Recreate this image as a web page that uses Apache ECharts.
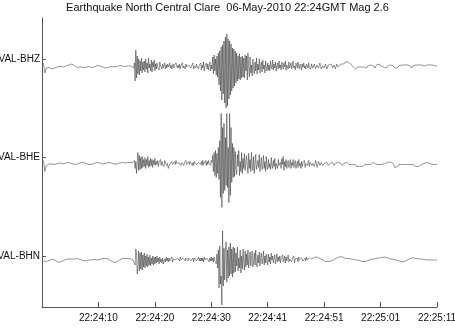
<!DOCTYPE html>
<html>
<head>
<meta charset="utf-8">
<script src="https://cdn.jsdelivr.net/npm/echarts@6/dist/echarts.min.js"></script>
<style>
html,body{margin:0;padding:0;background:#fff;}
#chart{width:455px;height:330px;}
</style>
</head>
<body>
<div id="chart"></div>
<script>
// ---- text ----
const titleText = 'Earthquake North Central Clare  06-May-2010 22:24GMT Mag 2.6';
const tickLabels = ['', '22:24:10', '22:24:20', '22:24:30', '22:24:41', '22:24:51', '22:25:01', '22:25:11'];
const channelNames = ['VAL-BHZ', 'VAL-BHE', 'VAL-BHN'];
const channelOffsets = [3, 2, 1];

// ---- sampling of the three record segments (axis time units, 10 per tick) ----
const segmentStarts = [0, 16, 48];
const segmentSteps = [0.25, 0.125, 0.25];

// ---- VAL-BHZ amplitudes (up positive) ----
const bhzBefore = [
 -4, -14, -9, -8, -8.5, -9.5, -10, -9.5, -9, -8.5,
 -8, -7.5, -7.5, -8, -8, -7.5, -7, -6.5, -6, -5.5,
 -5, -5.5, -6.5, -7.5, -8.5, -8.5, -8, -8, -8.5, -9,
 -8.5, -8, -7.5, -8, -8.5, -8.5, -8, -7, -6.5, -6.5,
 -7, -7.5, -8, -8.5, -9, -9, -8.5, -8, -7.5, -7.5,
 -8, -8, -7.5, -7, -6.5, -6.5, -7, -7.5, -7.5, -7,
 -7, -7, -7, -7
];
const bhzActive = [
 -7, -9, -4, -22, 9, -19, 3, -15, 0, -16, -2, -12, 1, -14, -3, -11,
 -2, -13, 0, -10, -4, -14, 1, -9, -5, -12, -1, -13, -3, -8, -1, -12,
 -5, -10, -4, -8, -7, -11, -3, -7, -6, -10, -5, -9, -8, -4, -10, -6,
 -9, -5, -8, -7, -4, -9, -6, -10, -7, -5, -9, -6, -8, -4, -7, -9,
 -6, -9, -5, -10, -7, -8, -4, -9, -7, -6, -10, -5, -8, -7, -9, -6,
 -8, -5, -9, -7, -8, -4, -10, -7, -6, -9, -5, -8, -7, -10, -6, -8,
 -4, -11, -6, -9, -3, -12, -7, -8, -4, -10, -5, -11, -7, -3, -12, -6,
 -10, 2, -15, 4, -12, 0, -16, 3, -18, 6, -26, 8, -32, 12, -41, 14,
 -35, 18, -44, 22, -49, 25, -47, 20, -40, 18, -36, 15, -32, 11, -29, 10,
 -27, 8, -24, 6, -22, 3, -20, 5, -21, 2, -19, 3, -18, 1, -19, 4,
 -12, 3, -21, 6, -9, -18, 2, -14, -6, -17, 0, -10, -15, -3, -12, 1,
 -15, -5, -11, 0, -14, -8, -3, -13, -1, -10, -6, -14, -2, -9, -12, -4,
 -11, -6, -12, -2, -8, -10, -1, -11, -5, -9, -3, -12, -7, -4, -10, -2,
 -9, -6, -11, -3, -7, -10, -4, -8, -2, -11, -6, -5, -10, -3, -9, -7,
 -4, -10, -6, -2, -9, -7, -11, -4, -6, -9, -3, -8, -10, -5, -7, -11,
 -5, -8, -4, -9, -7, -10, -5, -6, -9, -4, -8, -6, -10, -5, -7, -9
];
const bhzAfter = [
 -5, -10, -6, -9, -4, -10, -7, -9, -5, -10, -6, -8, -5, -9, -6, -10, -5, -8,
 -6, -5, -4, -5, -3, -2, -3, -4, -5, -7, -8, -10, -9, -8, -7, -8, -6, -8,
 -7, -9, -7, -8, -6, -8, -7, -9, -6, -7, -5, -7, -6, -8, -7, -9, -7, -8,
 -6, -8, -7, -9, -8, -9, -7, -8, -6, -8, -6, -7, -6, -8, -7, -9, -7, -8,
 -6, -8, -6, -7, -6, -8, -7, -8, -6, -7, -6, -7, -6, -8, -7, -7
];

// ---- VAL-BHE amplitudes ----
const bheBefore = [
 -3, -14, -8, -7, -6.5, -6, -6.5, -7, -7, -6.5,
 -6, -5.5, -5.5, -6, -6.5, -6, -5.5, -5, -5, -5.5,
 -6, -6.5, -7, -7, -6.5, -6, -5.5, -5, -5, -5.5,
 -6, -6.5, -7, -7.5, -7, -6.5, -6, -5.5, -5, -5,
 -5.5, -6, -6.5, -6.5, -6, -5.5, -5, -5, -5.5, -6,
 -6.5, -7, -6.5, -6, -5.5, -5, -5, -5, -5.5, -5,
 -5, -4.5, -5, -5.5
];
const bheActive = [
 -5, -7, -3, -11, -4, -16, -14, 5, -13, 2, -12, 0, -11, 1, -10, -2,
 -9, 0, -11, -2, -8, 1, -10, -3, -9, -1, -8, -2, -10, -3, -7, -1,
 -8, -4, -7, -3, -9, -5, -7, -2, -8, -4, -7, -5, -9, -3, -6, -4,
 -8, -6, -11, -10, -7, -5, -8, -4, -7, -5, -8, -4, -7, -3, -6, -5,
 -7, -5, -6, -4, -8, -5, -7, -4, -8, -5, -6, -3, -7, -5, -6, -4,
 -7, -4, -6, -4, -8, -5, -8, -4, -6, -4, -7, -5, -6, -5, -7, -4,
 -7, -4, -8, -3, -7, -5, -6, -3, -8, -4, -7, -3, -6, -4, -8, -3,
 -5, 2, -14, 5, -18, 7, -20, 4, -16, 10, -22, 17, -40, 44, -50, 30,
 -36, 34, -33, 20, -28, 44, -30, 10, -45, 44, -38, 30, -25, 14, -20, 10,
 -19, 6, -12, -17, 3, -9, 7, -18, -4, -14, 5, -16, -1, -11, 4, -13,
 -15, 2, -8, -16, 4, -11, -2, -14, 5, -9, -13, 1, -16, -5, 3, -12,
 -13, -3, -10, 3, -14, -6, 0, -12, -8, 2, -11, -4, -14, 1, -9, -12,
 -2, -10, -6, -12, 0, -8, -11, -3, -9, -1, -12, -6, -4, -11, -2, -8,
 -10, -5, -11, -1, -7, 1, -13, -4, -9, -2, -11, -6, -3, -10, -7, -2,
 -11, -5, -8, -2, -10, -6, -3, -11, -7, -4, -10, -2, -8, -6, -11, -4,
 -9, -5, -7, -3, -10, -6, -4, -8, -6, -3, -9, -5, -7, -4, -8, -6
];
const bheAfter = [
 -9, -3, -10, -4, -8, -5, -8, -6, -7, -5, -8, -6, -7, -5, -8, -6, -7, -5,
 -7, -6, -8, -6, -7, -5, -6, -7, -8, -7, -8, -7, -9, -8, -9, -10, -9, -8,
 -7, -6, -7, -6, -7, -6, -5, -6, -7, -6, -7, -6, -7, -6, -6, -5, -5, -5,
 -4.5, -5, -6, -10, -10, -9, -7, -6, -7, -6, -7, -6, -7, -6, -7, -6, -7, -8,
 -9, -10, -9, -8, -7, -6, -6, -5, -5, -5.5, -6, -6.5, -7, -7, -7, -7
];

// ---- VAL-BHN amplitudes ----
const bhnBefore = [
 -5, -7, -5.5, -5, -4.5, -4, -3.5, -3.5, -4, -5,
 -6, -6.5, -6, -5, -4.5, -4, -3.5, -3, -3, -3,
 -3, -3, -3, -2.5, -2.5, -3, -3.5, -4, -4.5, -5,
 -5, -4.5, -4, -4, -4, -3.5, -3.5, -4, -4, -4,
 -3.5, -3, -2.5, -2.5, -2.5, -2.5, -3, -4, -5, -6,
 -6.5, -6.5, -6, -5, -4, -3, -2.5, -2.5, -2.5, -2.5,
 -2.5, -2.5, -3, -3.5
];
const bhnActive = [
 -4, -6, -2, -9, 7, 2, -18, -10, 5, -15, 3, -13, 4, -14, 1, -11,
 3, -12, 0, -10, 2, -11, -1, -9, 1, -10, -2, -8, 0, -9, -1, -8,
 -1, -7, 0, -6, -2, -8, -1, -6, -3, -7, -2, -8, -7, -3, -6, -1,
 -5, -2, -6, -2, -5, -3, -4, -1, -6, -3, -5, -3, -4, -2, -5, -2,
 -4, -2, -5, -1, -4, -3, -6, -2, -4, -2, -5, -2, -4, -3, -5, -2,
 -4, -2, -5, -3, -4, -2, -6, -2, -4, -2, -5, -3, -4, -1, -5, -2,
 -5, -2, -5, -2, -6, -1, -4, -3, -5, -2, -4, -2, -6, -2, -5, -1,
 -5, -2, -6, -1, -5, -3, -8, 2, -12, 6, -32, 10, -28, -20, -49, 25,
 -30, 8, -24, 5, 14, -26, 6, -22, 9, -20, 13, -18, 7, -21, 9, -17,
 8, -16, 3, -10, 9, -15, -2, -12, 6, -17, 0, -13, 7, -6, -14, 5,
 -11, 2, -9, 6, -12, -3, 4, -10, -1, 5, -11, -5, 3, -9, 6, -8,
 -11, 1, -7, 4, -10, -2, 3, -8, -4, 5, -9, 0, -7, 2, -5, -9,
 2, -6, -1, -8, 3, -4, 0, -7, -2, 1, -8, -3, 2, -6, -1, -5,
 0, -7, -2, -4, 1, -6, -3, 0, -7, -1, -5, -2, 1, -6, -3, -5,
 -1, -6, -2, -4, 0, -7, -3, -1, -5, -2, -6, -1, -4, -3, -6, -2,
 -2, -5, -3, -6, -2, -5, -1, -4, -3, -5, -2, -4, -1, -3, -2, -4
];
const bhnAfter = [
 -1.5, -0.7, -1, -2, -2.5, -3.5, -4, -5, -5.5, -6.3, -5.5, -6, -5, -4, -3.5, -3, -2, -1.5,
 -0.7, -1.5, -1, -2, -2.5, -3, -2.5, -3.5, -3, -4, -3.5, -4.5, -4, -5, -4.5, -5, -5.5, -5,
 -5.7, -5, -4.5, -4, -3.5, -4, -3, -3.5, -2.5, -3, -2, -2.5, -1.5, -2, -1, -1.5, -2, -2.5,
 -3, -2.5, -3.5, -3, -4, -4.5, -5, -5.5, -6, -6.3, -5.5, -5, -4, -3.5, -2.5, -2, -1.7, -2,
 -2.5, -2, -3, -3.5, -3, -4, -3.5, -4.5, -4, -4.5, -4, -3.5, -4, -4.5, -4, -4
];

const traces = [
  [bhzBefore, bhzActive, bhzAfter],
  [bheBefore, bheActive, bheAfter],
  [bhnBefore, bhnActive, bhnAfter]
];
const ampPerUnit = 98.5;

function buildTrace(segments, offset) {
  const out = [];
  segments.forEach((seg, s) => {
    seg.forEach((a, i) => {
      out.push([segmentStarts[s] + (i + 1) * segmentSteps[s], offset + a / ampPerUnit]);
    });
  });
  return out;
}

const FONT = '"Liberation Sans", Arial, Helvetica, sans-serif';
const chart = echarts.init(document.getElementById('chart'), null, {renderer: 'canvas'});

const series = traces.map((segs, k) => ({
  type: 'line',
  name: channelNames[k],
  data: buildTrace(segs, channelOffsets[k]),
  showSymbol: false,
  symbol: 'none',
  lineStyle: {color: '#111', width: 0.45},
  silent: true,
  animation: false
}));

const labelByOffset = {};
channelOffsets.forEach((o, k) => { labelByOffset[o] = channelNames[k]; });

chart.setOption({
  animation: false,
  backgroundColor: '#fff',
  title: {
    text: titleText,
    left: 'center',
    top: 0,
    padding: [2, 0, 0, 25],
    textStyle: {fontFamily: FONT, fontSize: 11, fontWeight: 'normal', color: '#111'}
  },
  grid: {left: 42, right: 18, top: 18, bottom: 23, containLabel: false, outerBoundsMode: 'none'},
  xAxis: {
    type: 'value',
    min: 0,
    max: 70,
    interval: 10,
    axisLine: {show: true, lineStyle: {color: '#555', width: 1}},
    axisTick: {show: true, inside: true, length: 5, lineStyle: {color: '#555'}},
    axisLabel: {
      show: true,
      margin: 6,
      fontFamily: FONT,
      fontSize: 10,
      color: '#111',
      showMinLabel: true,
      showMaxLabel: true,
      formatter: v => tickLabels[Math.round(v / 10)] || ''
    },
    splitLine: {show: false}
  },
  yAxis: {
    type: 'value',
    min: 0.482,
    max: 3.416,
    axisLine: {show: true, lineStyle: {color: '#555', width: 1}},
    axisTick: {show: true, inside: true, length: 4, customValues: channelOffsets, lineStyle: {color: '#555'}},
    axisLabel: {
      show: true,
      margin: 2,
      fontFamily: FONT,
      fontSize: 10,
      color: '#111',
      customValues: channelOffsets,
      formatter: v => labelByOffset[Math.round(v)] || ''
    },
    splitLine: {show: false}
  },
  series: series
});
</script>
</body>
</html>
